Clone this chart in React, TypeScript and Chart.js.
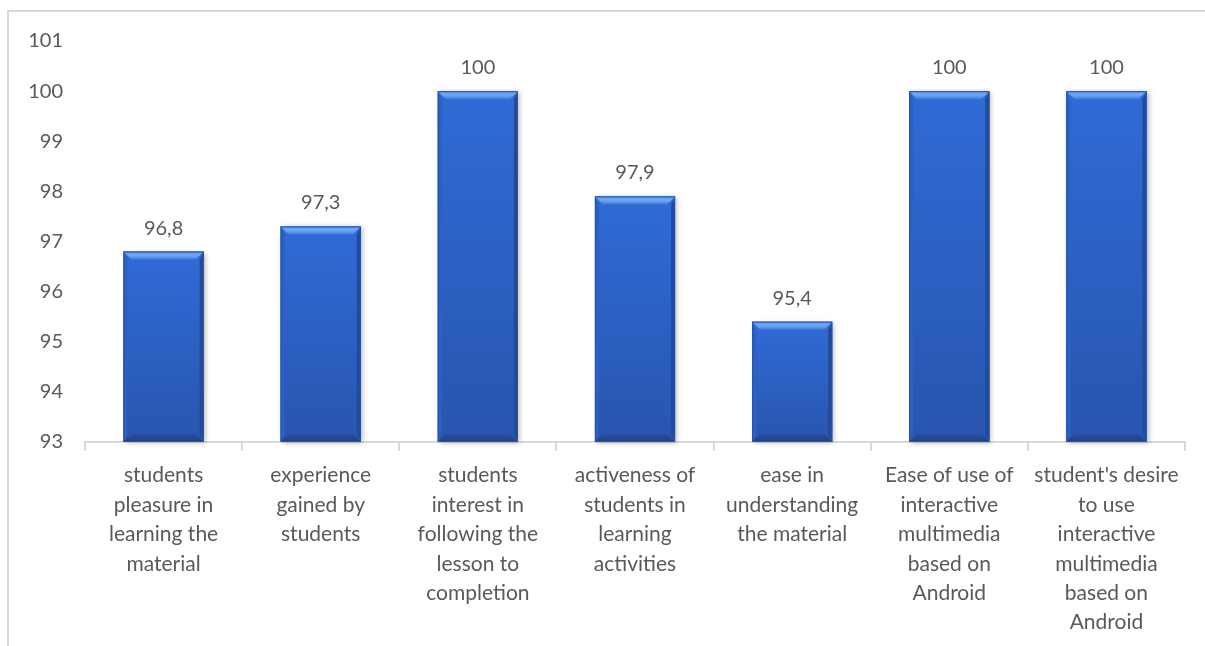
import React, { useEffect, useRef } from "react";
import { Chart, registerables } from "chart.js";
Chart.register(...registerables);

const categories: string[][] = [
  ["students", "pleasure in", "learning the", "material"],
  ["experience", "gained by", "students"],
  ["students", "interest in", "following the", "lesson to", "completion"],
  ["activeness of", "students in", "learning", "activities"],
  ["ease in", "understanding", "the material"],
  ["Ease of use of", "interactive", "multimedia", "based on", "Android"],
  ["student's desire", "to use", "interactive", "multimedia", "based on", "Android"],
];
const values: number[] = [96.8, 97.3, 100, 97.9, 95.4, 100, 100];
const valueLabels: string[] = ["96,8", "97,3", "100", "97,9", "95,4", "100", "100"];
const yMin = 93;
const yMax = 101;

const TEXT = "#595959";
const FONT = "Lato";

function poly(ctx: CanvasRenderingContext2D, pts: number[][], fill: string | CanvasGradient) {
  ctx.beginPath();
  ctx.moveTo(pts[0][0], pts[0][1]);
  for (let i = 1; i < pts.length; i++) ctx.lineTo(pts[i][0], pts[i][1]);
  ctx.closePath();
  ctx.fillStyle = fill;
  ctx.fill();
}

const bevelPlugin = {
  id: "bevelBars",
  afterDatasetsDraw(chart: any) {
    const ctx: CanvasRenderingContext2D = chart.ctx;
    const meta = chart.getDatasetMeta(0);
    const bottom = chart.chartArea.bottom;
    meta.data.forEach((bar: any, i: number) => {
      const { x, y, base, width } = bar.getProps(["x", "y", "base", "width"], true);
      const l = x - width / 2;
      const r = x + width / 2;
      const t = y;
      const b = Math.min(base, bottom);
      const bv = 8;
      const sv = 4;
      ctx.save();
      ctx.shadowColor = "rgba(0,0,0,0.28)";
      ctx.shadowBlur = 5;
      ctx.shadowOffsetX = 2;
      ctx.shadowOffsetY = 1;
      const g = ctx.createLinearGradient(0, t, 0, b);
      g.addColorStop(0, "#306bd6");
      g.addColorStop(1, "#2855ae");
      ctx.fillStyle = g;
      ctx.fillRect(l, t, width, b - t);
      ctx.restore();
      ctx.save();
      poly(ctx, [[l, t], [l + sv, t + bv], [l + sv, b - bv], [l, b]], "#2c60c2");
      poly(ctx, [[r, t], [r, b], [r - sv, b - bv], [r - sv, t + bv]], "#22499a");
      const gb = ctx.createLinearGradient(0, b - bv, 0, b);
      gb.addColorStop(0, "#264fa3");
      gb.addColorStop(1, "#1e418a");
      poly(ctx, [[l, b], [r, b], [r - bv, b - bv], [l + bv, b - bv]], gb);
      const gt = ctx.createLinearGradient(0, t, 0, t + bv);
      gt.addColorStop(0, "#5e98ee");
      gt.addColorStop(0.5, "#72a6f2");
      gt.addColorStop(1, "#3f7bdc");
      poly(ctx, [[l, t], [r, t], [r - bv, t + bv], [l + bv, t + bv]], gt);
      ctx.strokeStyle = "#2754a8";
      ctx.lineWidth = 1;
      ctx.strokeRect(l + 0.5, t + 0.5, width - 1, b - t - 1);
      ctx.fillStyle = TEXT;
      ctx.font = `20px ${FONT}`;
      ctx.textAlign = "center";
      ctx.textBaseline = "alphabetic";
      ctx.fillText(valueLabels[i], x, t - 17);
      ctx.restore();
    });
  },
};

export default function App() {
  const ref = useRef<HTMLCanvasElement>(null);
  useEffect(() => {
    if (!ref.current) return;
    const chart = new Chart(ref.current, {
      type: "bar",
      data: {
        labels: categories,
        datasets: [
          {
            data: values,
            backgroundColor: "#2e66cc",
            borderWidth: 0,
            barPercentage: 0.51,
            categoryPercentage: 1,
          },
        ],
      },
      options: {
        responsive: false,
        animation: false,
        devicePixelRatio: 1,
        layout: { padding: { left: 0, right: 20, top: 29, bottom: 0 } },
        plugins: { legend: { display: false }, tooltip: { enabled: false } },
        scales: {
          x: {
            grid: {
              display: true,
              drawOnChartArea: false,
              drawTicks: true,
              tickLength: 9,
              color: "#d9d9d9",
              lineWidth: 2,
              offset: true,
            },
            border: { display: true, color: "#d9d9d9", width: 2 },
            ticks: {
              color: TEXT,
              font: { family: FONT, size: 21, lineHeight: 1.4 },
              padding: 10,
              maxRotation: 0,
              autoSkip: false,
            },
            afterFit(scale: any) {
              scale.height = 204;
            },
          },
          y: {
            min: yMin,
            max: yMax,
            grid: { display: false },
            border: { display: false },
            ticks: {
              stepSize: 1,
              color: TEXT,
              font: { family: FONT, size: 20 },
              padding: 14,
            },
            afterFit(scale: any) {
              scale.width = 76;
            },
          },
        },
      },
      plugins: [bevelPlugin],
    });
    return () => chart.destroy();
  }, []);
  return (
    <div>
      <div
        style={{
          position: "fixed",
          left: 7,
          top: 10,
          right: -10,
          bottom: -10,
          borderLeft: "2px solid #d9d9d9",
          borderTop: "2px solid #d9d9d9",
          background: "#fff",
        }}
      />
      <canvas
        ref={ref}
        width={1196}
        height={634}
        style={{ position: "fixed", left: 9, top: 12, width: 1196, height: 634 }}
      />
    </div>
  );
}
